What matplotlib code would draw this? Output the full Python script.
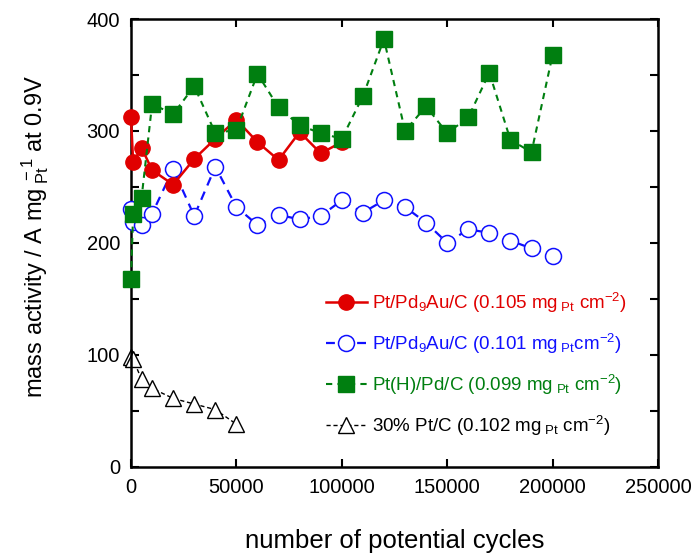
import numpy as np
import matplotlib
matplotlib.use("Agg")
import matplotlib.pyplot as plt
from matplotlib.ticker import MultipleLocator

plt.rcParams.update({"font.family": ["Liberation Sans", "DejaVu Sans"],
                     "mathtext.fontset": "custom",
                     "mathtext.rm": "Liberation Sans",
                     "mathtext.it": "Liberation Sans",
                     "mathtext.default": "regular"})

# Pt/Pd9Au/C (0.105 mgPt cm-2)
cyc_a = [0, 1000, 5000, 10000, 20000, 30000, 40000, 50000, 60000, 70000, 80000, 90000, 100000]
act_a = [312, 272, 285, 265, 252, 275, 293, 310, 290, 274, 299, 280, 290]

# Pt/Pd9Au/C (0.101 mgPt cm-2)
cyc_b = [0, 1000, 5000, 10000, 20000, 30000, 40000, 50000, 60000, 70000, 80000, 90000,
         100000, 110000, 120000, 130000, 140000, 150000, 160000, 170000, 180000, 190000, 200000]
act_b = [230, 219, 216, 226, 266, 224, 268, 232, 216, 225, 221, 224,
         238, 227, 238, 232, 218, 200, 212, 209, 202, 195, 188]

# Pt(H)/Pd/C (0.099 mgPt cm-2)
cyc_c = [0, 1000, 5000, 10000, 20000, 30000, 40000, 50000, 60000, 70000, 80000, 90000,
         100000, 110000, 120000, 130000, 140000, 150000, 160000, 170000, 180000, 190000, 200000]
act_c = [168, 226, 240, 324, 315, 340, 298, 301, 351, 321, 305, 298,
         293, 331, 382, 300, 322, 298, 312, 352, 292, 281, 368]

# 30% Pt/C (0.102 mgPt cm-2)
cyc_d = [0, 1000, 5000, 10000, 20000, 30000, 40000, 50000]
act_d = [98, 96, 78, 70, 61, 56, 51, 38]

RED, BLUE, GREEN = "#e00000", "#1010ff", "#007f10"

fig = plt.figure(figsize=(6.91, 5.54), dpi=100)
ax = fig.add_axes([0.1896, 0.1576, 0.7626, 0.8081])

ax.plot(cyc_a, act_a, "-", color=RED, lw=1.8, marker="o", ms=11, mfc=RED, mec=RED,
        label=r"Pt/Pd$_9$Au/C (0.105 mg$_{\ Pt}$ cm$^{-2}$)", zorder=4, clip_on=False)
ax.plot(cyc_b, act_b, "--", color=BLUE, lw=1.6, dashes=(4, 3), marker="o", ms=11.5,
        mfc="white", mec=BLUE, mew=1.1,
        label=r"Pt/Pd$_9$Au/C (0.101 mg$_{\ Pt}$cm$^{-2}$)", zorder=3, clip_on=False)
ax.plot(cyc_c, act_c, "--", color=GREEN, lw=1.5, dashes=(3, 2.5), marker="s", ms=12,
        mfc=GREEN, mec=GREEN,
        label=r"Pt(H)/Pd/C (0.099 mg$_{\ Pt}$ cm$^{-2}$)", zorder=5, clip_on=False)
ax.plot(cyc_d, act_d, "--", color="black", lw=1.0, dashes=(3, 2), marker="^", ms=11,
        mfc="white", mec="black", mew=1.0,
        label=r"30% Pt/C (0.102 mg$_{\ Pt}$ cm$^{-2}$)", zorder=2, clip_on=False)

ax.set_xlim(0, 250000)
ax.set_ylim(0, 400)
ax.xaxis.set_major_locator(MultipleLocator(50000))
ax.yaxis.set_major_locator(MultipleLocator(100))
ax.yaxis.set_minor_locator(MultipleLocator(50))
ax.tick_params(which="both", direction="in", top=True, right=True, length=6, width=1.5,
               labelsize=14.5)
ax.tick_params(axis="x", pad=8)
ax.tick_params(axis="y", pad=8)
for sp in ax.spines.values():
    sp.set_linewidth(1.8)

fig.text(0.5 * (0.1896 + 0.9522), 1 - 541 / 554, "number of potential cycles",
         ha="center", va="center", fontsize=18.5)
fig.text(35 / 691, 1 - 236 / 554, r"mass activity / A mg$_{\ \mathrm{Pt}}^{\ -1}$ at 0.9V",
         ha="center", va="center", rotation=90, fontsize=17)

leg = ax.legend(loc="center left", bbox_to_anchor=(0.355, 0.229), frameon=False,
                fontsize=13.5, handlelength=2.2, handletextpad=0.3, labelspacing=0.9,
                borderaxespad=0)
for txt, col in zip(leg.get_texts(), [RED, BLUE, GREEN, "black"]):
    txt.set_color(col)

fig.savefig("out.png", dpi=100, facecolor="white")
